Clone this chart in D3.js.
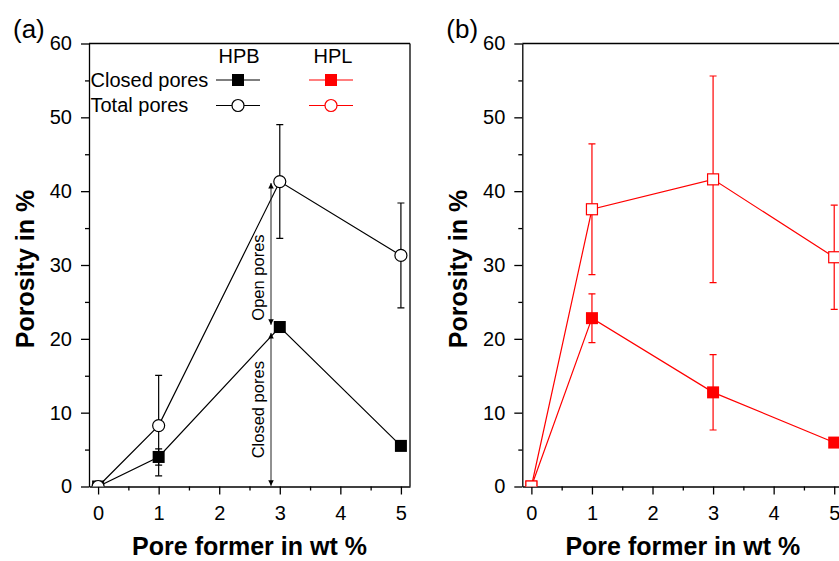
<!DOCTYPE html>
<html>
<head>
<meta charset="utf-8">
<script src="https://cdn.jsdelivr.net/npm/d3@7"></script>
<style>
  body { margin: 0; background: #fff; }
  svg { font-family: "Liberation Sans", Arial, sans-serif; }
</style>
</head>
<body>
<div id="viz"></div>
<script>
// pore former content, wt %
var poreFormer = [0, 1, 3, 5];

// HPB (panel a)
var hpbClosed = [0, 4.0, 21.6, 5.5];
var hpbClosedErr = [0, 1.1, 0, 0];
var hpbTotal = [0, 8.25, 41.3, 31.3];
var hpbTotalErr = [0, 6.8, 7.7, 7.1];

// HPL (panel b)
var hplClosed = [0, 22.8, 12.75, 5.95];
var hplClosedErr = [0, 3.3, 5.1, 0];
var hplTotal = [0, 37.55, 41.6, 31.05];
var hplTotalErr = [0, 8.85, 14.0, 7.05];

var xTicks = [0, 1, 2, 3, 4, 5];
var yTicks = [0, 10, 20, 30, 40, 50, 60];

// annotation arrows in panel (a): [x, from, to, label y]
var openArrow = [2.855, 21.9, 41.1, 28.3];
var closedArrow = [2.855, 0.1, 20.8, 10.4];

var width = 839, height = 561;
var plotW = 321,
    plotTop = 43.5,
    plotBottom = 486.5;

var svg = d3.select("#viz").append("svg")
  .attr("width", width)
  .attr("height", height);

var defs = svg.append("defs");
defs.append("marker")
  .attr("id", "arr")
  .attr("viewBox", "0 0 10 10")
  .attr("refX", 10).attr("refY", 5)
  .attr("markerWidth", 12).attr("markerHeight", 5.5)
  .attr("markerUnits", "userSpaceOnUse")
  .attr("orient", "auto-start-reverse")
  .append("path")
    .attr("d", "M0,0L10,5L0,10Z")
    .attr("fill", "#000");

function series(xs, ys, es) {
  return xs.map(function(x, i) { return {x: x, y: ys[i], e: es[i]}; });
}

function panel(left, id, closed, total, color, totalShape) {
  var x = d3.scaleLinear().domain([-0.15, 5.15]).range([left, left + plotW]);
  var y = d3.scaleLinear().domain([0, 60]).range([plotBottom, plotTop]);

  var g = svg.append("g");

  defs.append("clipPath").attr("id", "clip" + id)
    .append("rect")
      .attr("x", left).attr("y", plotTop)
      .attr("width", plotW).attr("height", plotBottom - plotTop);

  // axes
  g.append("g")
    .attr("transform", "translate(" + left + ",0)")
    .call(d3.axisLeft(y).tickValues(yTicks).tickSize(8).tickSizeOuter(0).tickPadding(9));
  g.append("g")
    .attr("transform", "translate(" + left + ",0)")
    .call(d3.axisLeft(y).tickValues(d3.range(5, 60, 10)).tickSize(4).tickFormat(""))
    .select(".domain").remove();

  g.append("g")
    .attr("transform", "translate(0," + plotBottom + ")")
    .call(d3.axisBottom(x).tickValues(xTicks).tickFormat(d3.format("d"))
      .tickSize(8).tickSizeOuter(0).tickPadding(11));
  g.append("g")
    .attr("transform", "translate(0," + plotBottom + ")")
    .call(d3.axisBottom(x).tickValues(d3.range(0.5, 5, 1)).tickSize(4).tickFormat(""))
    .select(".domain").remove();

  g.selectAll(".tick text").attr("font-size", 20).attr("font-family", "Liberation Sans, Arial, sans-serif");
  g.selectAll(".domain, .tick line").attr("stroke-width", 1.3);

  // frame
  g.append("line")
    .attr("x1", left).attr("x2", left + plotW)
    .attr("y1", plotTop).attr("y2", plotTop)
    .attr("stroke", "#000").attr("stroke-width", 1.3);
  g.append("line")
    .attr("x1", left + plotW).attr("x2", left + plotW)
    .attr("y1", plotTop).attr("y2", plotBottom)
    .attr("stroke", "#000").attr("stroke-width", 1.3);

  // labels
  g.append("text")
    .attr("transform", "translate(" + (left - 55) + "," + 269 + ") rotate(-90)")
    .attr("text-anchor", "middle")
    .attr("font-size", 25).attr("font-weight", "bold")
    .text("Porosity in %");
  g.append("text")
    .attr("x", left + plotW / 2).attr("y", 555)
    .attr("text-anchor", "middle")
    .attr("font-size", 25).attr("font-weight", "bold")
    .text("Pore former in wt %");
  g.append("text")
    .attr("x", left - 76).attr("y", 38)
    .attr("font-size", 26)
    .text("(" + id + ")");

  var data = g.append("g").attr("clip-path", "url(#clip" + id + ")");
  var line = d3.line().x(function(d) { return x(d.x); }).y(function(d) { return y(d.y); });

  [closed, total].forEach(function(s) {
    data.append("path")
      .datum(s)
      .attr("d", line)
      .attr("fill", "none")
      .attr("stroke", color)
      .attr("stroke-width", 1.2);
  });

  [closed, total].forEach(function(s) {
    var eb = data.selectAll(null)
      .data(s.filter(function(d) { return d.e > 0; }))
      .enter().append("g")
      .attr("stroke", color).attr("stroke-width", 1.2);
    eb.append("line")
      .attr("x1", function(d) { return x(d.x); })
      .attr("x2", function(d) { return x(d.x); })
      .attr("y1", function(d) { return y(d.y - d.e); })
      .attr("y2", function(d) { return y(d.y + d.e); });
    [-1, 1].forEach(function(k) {
      eb.append("line")
        .attr("x1", function(d) { return x(d.x) - 3.5; })
        .attr("x2", function(d) { return x(d.x) + 3.5; })
        .attr("y1", function(d) { return y(d.y + k * d.e); })
        .attr("y2", function(d) { return y(d.y + k * d.e); });
    });
  });

  // closed pores: filled squares
  data.selectAll(null)
    .data(closed)
    .enter().append("rect")
      .attr("x", function(d) { return x(d.x) - 6; })
      .attr("y", function(d) { return y(d.y) - 6; })
      .attr("width", 12).attr("height", 12)
      .attr("fill", color);

  // total pores: open markers
  if (totalShape == "circle") {
    data.selectAll(null)
      .data(total)
      .enter().append("circle")
        .attr("cx", function(d) { return x(d.x); })
        .attr("cy", function(d) { return y(d.y); })
        .attr("r", 6)
        .attr("fill", "#fff").attr("stroke", color).attr("stroke-width", 1.2);
  } else {
    data.selectAll(null)
      .data(total)
      .enter().append("rect")
        .attr("x", function(d) { return x(d.x) - 5.5; })
        .attr("y", function(d) { return y(d.y) - 5.5; })
        .attr("width", 11).attr("height", 11)
        .attr("fill", "#fff").attr("stroke", color).attr("stroke-width", 1.2);
  }

  return {g: g, x: x, y: y};
}

var pa = panel(89, "a",
  series(poreFormer, hpbClosed, hpbClosedErr),
  series(poreFormer, hpbTotal, hpbTotalErr),
  "#000", "circle");

var pb = panel(522.3, "b",
  series(poreFormer, hplClosed, hplClosedErr),
  series(poreFormer, hplTotal, hplTotalErr),
  "#ff0000", "square");

// annotations in (a)
[[openArrow, "Open pores"], [closedArrow, "Closed pores"]].forEach(function(a) {
  var v = a[0];
  pa.g.append("line")
    .attr("x1", pa.x(v[0])).attr("x2", pa.x(v[0]))
    .attr("y1", pa.y(v[1])).attr("y2", pa.y(v[2]))
    .attr("stroke", "#222").attr("stroke-width", 1)
    .attr("marker-start", "url(#arr)")
    .attr("marker-end", "url(#arr)");
  pa.g.append("text")
    .attr("transform", "translate(" + (pa.x(v[0]) - 7) + "," + pa.y(v[3]) + ") rotate(-90)")
    .attr("text-anchor", "middle")
    .attr("font-size", 16.5)
    .text(a[1]);
});

// legend in (a)
var leg = pa.g.append("g").attr("font-size", 20);
leg.append("text").attr("x", 239).attr("y", 63).attr("text-anchor", "middle").text("HPB");
leg.append("text").attr("x", 333).attr("y", 63).attr("text-anchor", "middle").text("HPL");
leg.append("text").attr("x", 90.5).attr("y", 87).text("Closed pores");
leg.append("text").attr("x", 90.5).attr("y", 112).text("Total pores");

var legItems = [
  {cx: 238, y: 80, color: "#000", shape: "square"},
  {cx: 331, y: 80, color: "#ff0000", shape: "square"},
  {cx: 238, y: 105.5, color: "#000", shape: "circle"},
  {cx: 331, y: 105.5, color: "#ff0000", shape: "circle"}
];
legItems.forEach(function(d) {
  leg.append("line")
    .attr("x1", d.cx - 22).attr("x2", d.cx + 22)
    .attr("y1", d.y).attr("y2", d.y)
    .attr("stroke", d.color).attr("stroke-width", 1.2);
  if (d.shape == "square")
    leg.append("rect").attr("x", d.cx - 6).attr("y", d.y - 6)
      .attr("width", 12).attr("height", 12).attr("fill", d.color);
  else
    leg.append("circle").attr("cx", d.cx).attr("cy", d.y).attr("r", 6)
      .attr("fill", "#fff").attr("stroke", d.color).attr("stroke-width", 1.2);
});
</script>
</body>
</html>
